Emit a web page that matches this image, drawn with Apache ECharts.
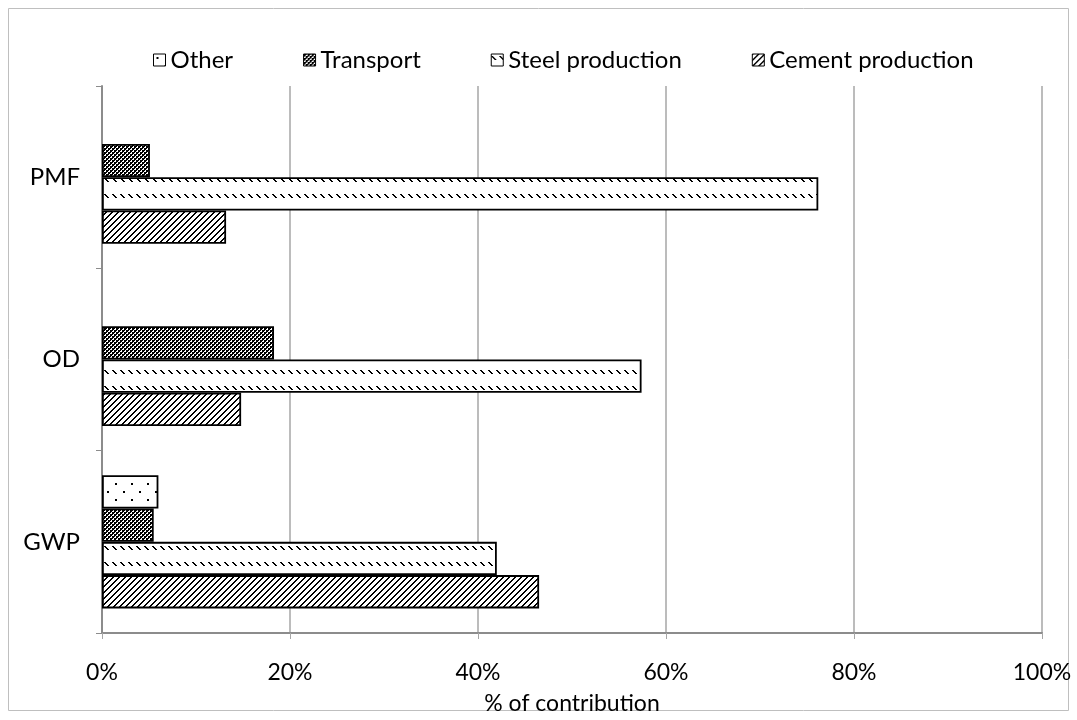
<!DOCTYPE html>
<html>
<head>
<meta charset="utf-8">
<style>
  html, body { margin: 0; padding: 0; background: #fff; }
  #chart { width: 1077px; height: 720px; }
</style>
<script src="https://cdn.jsdelivr.net/npm/echarts@6/dist/echarts.min.js"></script>
</head>
<body>
<div id="chart"></div>
<script>
// Impact categories (bottom to top on the category axis)
const categories = ['GWP', 'OD', 'PMF'];

// Share of each process in the impact, %
const otherValues = [6.0, '-', '-'];
const transportValues = [5.5, 18.3, 5.1];
const steelValues = [42.0, 57.4, 76.2];
const cementValues = [46.5, 14.8, 13.2];

const xTicks = [0, 20, 40, 60, 80, 100];
const seriesNames = ['Other', 'Transport', 'Steel production', 'Cement production'];

// Small black-and-white hatch tiles used as bar fills
function makeTile(w, h, draw) {
  const c = document.createElement('canvas');
  c.width = w; c.height = h;
  const ctx = c.getContext('2d');
  ctx.fillStyle = '#fff';
  ctx.fillRect(0, 0, w, h);
  ctx.fillStyle = '#000';
  draw(ctx);
  return { image: c, repeat: 'repeat' };
}

const dotsFill = makeTile(16, 16, ctx => {
  ctx.fillRect(3, 3, 2, 2);
  ctx.fillRect(11, 11, 2, 2);
});

const checkerFill = makeTile(4, 4, ctx => {
  ctx.fillRect(0, 0, 2, 2);
  ctx.fillRect(2, 2, 2, 2);
  ctx.fillRect(2, 0, 1, 1);
  ctx.fillRect(0, 2, 1, 1);
});

const dashedDownFill = makeTile(8, 16, ctx => {
  for (let i = 0; i < 4; i++) ctx.fillRect(i, 2 + i, 2, 1);
});

const upwardFill = makeTile(6, 6, ctx => {
  for (let i = 0; i < 6; i++) {
    ctx.fillRect(i, 5 - i, 1, 1);
    ctx.fillRect((i + 1) % 6, 5 - i, 1, 1);
  }
});

const fills = [dotsFill, checkerFill, dashedDownFill, upwardFill];
const valueSets = [otherValues, transportValues, steelValues, cementValues];

const FONT = 'Lato, "Open Sans", sans-serif';
const TEXT = '#000';

const chart = echarts.init(document.getElementById('chart'), null, { renderer: 'canvas' });

chart.setOption({
  animation: false,
  backgroundColor: '#fff',
  graphic: [{
    type: 'rect',
    shape: { x: 8.5, y: 8.5, width: 1060, height: 702 },
    style: { fill: 'none', stroke: '#bfbfbf', lineWidth: 1 },
    silent: true
  }],
  legend: {
    data: seriesNames,
    top: 43,
    left: 148,
    icon: 'rect',
    itemWidth: 12,
    itemHeight: 12,
    itemGap: 70,
    textStyle: { fontFamily: FONT, fontSize: 24, color: TEXT },
    itemStyle: { borderColor: '#000', borderWidth: 1 }
  },
  grid: {
    left: 102, right: 35, top: 86, bottom: 87,
    containLabel: false,
    outerBoundsMode: 'none'
  },
  xAxis: {
    type: 'value',
    min: 0,
    max: 100,
    interval: 20,
    name: '% of contribution',
    nameLocation: 'middle',
    nameGap: 59,
    nameTextStyle: { fontFamily: FONT, fontSize: 23, color: TEXT },
    axisLine: { show: true, lineStyle: { color: '#8c8c8c', width: 2 } },
    axisTick: { show: true, length: 6, lineStyle: { color: '#a6a6a6', width: 1 } },
    axisLabel: {
      formatter: v => xTicks.includes(v) ? v + '%' : '',
      fontFamily: FONT, fontSize: 23, color: TEXT, margin: 28
    },
    splitLine: { show: true, lineStyle: { color: '#a6a6a6', width: 1.5 } }
  },
  yAxis: {
    type: 'category',
    data: categories,
    axisLine: { show: true, lineStyle: { color: '#8c8c8c', width: 2 } },
    axisTick: { show: true, length: 6, lineStyle: { color: '#8c8c8c', width: 1 } },
    axisLabel: { fontFamily: FONT, fontSize: 24, color: TEXT, margin: 22 },
    splitLine: { show: false }
  },
  series: seriesNames.map((name, i) => ({
    name: name,
    type: 'bar',
    data: valueSets[i],
    barGap: '0%',
    barCategoryGap: '27%',
    itemStyle: { color: fills[i], borderColor: '#000', borderWidth: 1.8 },
    emphasis: { disabled: true }
  }))
});
</script>
</body>
</html>
